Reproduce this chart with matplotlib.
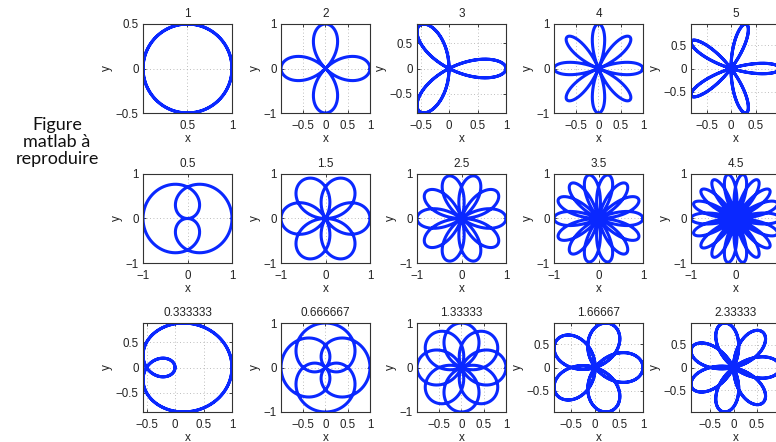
import numpy as np
import matplotlib
matplotlib.use("Agg")
import matplotlib.pyplot as plt

# rose curves r = cos(k * theta), k = num / den
k_num = [1, 2, 3, 4, 5, 1, 3, 5, 7, 9, 1, 2, 4, 5, 7]
k_den = [1, 1, 1, 1, 1, 2, 2, 2, 2, 2, 3, 3, 3, 3, 3]
titles = ['1', '2', '3', '4', '5',
          '0.5', '1.5', '2.5', '3.5', '4.5',
          '0.333333', '0.666667', '1.33333', '1.66667', '2.33333']
xticks = [[0.5, 1], [-0.5, 0, 0.5, 1], [-0.5, 0, 0.5, 1], [-0.5, 0, 0.5, 1], [-0.5, 0, 0.5, 1],
          [-1, 0, 1], [-1, 0, 1], [-1, 0, 1], [-1, 0, 1], [-1, 0, 1],
          [-0.5, 0, 0.5, 1], [-0.5, 0, 0.5, 1], [-0.5, 0, 0.5, 1], [-0.5, 0, 0.5, 1], [-0.5, 0, 0.5, 1]]
yticks = [[-0.5, 0, 0.5], [-1, 0, 1], [-0.5, 0, 0.5], [-1, 0, 1], [-0.5, 0, 0.5],
          [-1, 0, 1], [-1, 0, 1], [-1, 0, 1], [-1, 0, 1], [-1, 0, 1],
          [-0.5, 0, 0.5], [-1, 0, 1], [-1, 0, 1], [-0.5, 0, 0.5], [-0.5, 0, 0.5]]
side_text = "Figure\nmatlab à\nreproduire"

W, H = 776, 442
fig = plt.figure(figsize=(W / 100, H / 100), dpi=100)
plt.rcParams['font.family'] = ['Liberation Sans', 'DejaVu Sans']

col_left = [143, 281, 417, 554, 691]
row_top = [24, 174, 323]
size = 89

def fmt(v):
    if v == int(v):
        return '\u2212%d' % abs(int(v)) if v < 0 else '%d' % int(v)
    s = ('%g' % abs(v))
    return ('\u2212' + s) if v < 0 else s

for i in range(15):
    r_i, c_i = divmod(i, 5)
    ax = fig.add_axes([col_left[c_i] / W, 1 - (row_top[r_i] + size) / H, size / W, size / H])
    k = k_num[i] / k_den[i]
    th = np.linspace(0, 2 * np.pi * k_den[i], 3000)
    rr = np.cos(k * th)
    x = rr * np.cos(th)
    y = rr * np.sin(th)
    ax.plot(x, y, color='#0a28ff', lw=2.2, solid_capstyle='round')
    ax.set_xlim(x.min(), x.max())
    ax.set_ylim(y.min(), y.max())
    ax.set_xticks(xticks[i])
    ax.set_xticklabels([fmt(v) for v in xticks[i]])
    ax.set_yticks(yticks[i])
    ax.set_yticklabels([fmt(v) for v in yticks[i]])
    ax.tick_params(direction='in', length=2.5, width=0.6, top=True, right=True,
                   labelsize=8.3, colors='#222222')
    ax.tick_params(axis='x', pad=5)
    ax.tick_params(axis='y', pad=3)
    ax.grid(True, linestyle=(0, (1, 3)), color='#a8a8a8', linewidth=0.6)
    for sp in ax.spines.values():
        sp.set_color('#333333')
        sp.set_linewidth(0.8)
    ax.set_title(titles[i], fontsize=8.5, pad=5, color='#222222')
    ax.set_xlabel('x', fontsize=8.5, labelpad=1, color='#222222')
    ax.set_ylabel('y', fontsize=8.5, labelpad=2, color='#222222')

fig.text(57 / W, 1 - 142 / H, side_text, ha='center', va='center', fontsize=13,
         family=['Lato', 'DejaVu Sans'], linespacing=1.1, color='#111111')
fig.text(322 / W, 1 - 1 / H, '\u00b7\u00b7', ha='center', va='center', fontsize=6,
         color='#ff6666')

fig.savefig('out.png', dpi=100)
